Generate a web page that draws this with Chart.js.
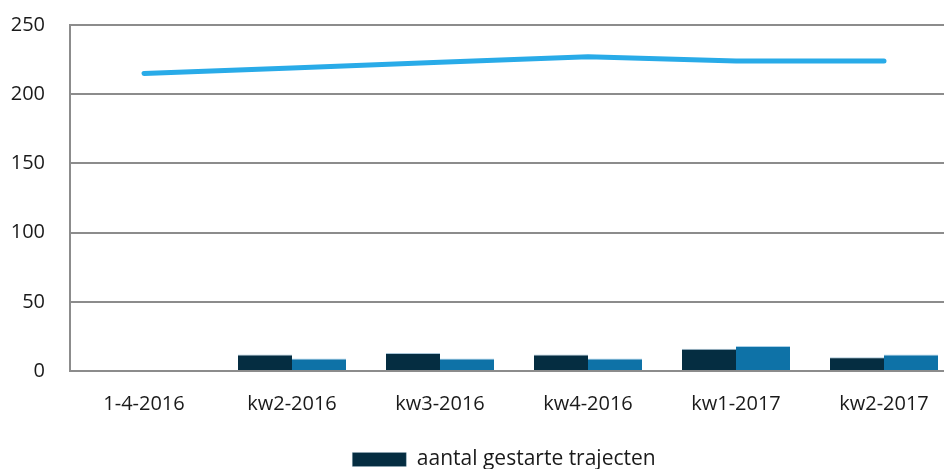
<!DOCTYPE html>
<html>
<head>
<meta charset="utf-8">
<script src="https://cdn.jsdelivr.net/npm/chart.js@4/dist/chart.umd.min.js"></script>
<style>
  html, body { margin: 0; padding: 0; background: #fff; overflow: hidden; }
  #wrap { position: relative; top: -12px; width: 962px; height: 492px; }
</style>
</head>
<body>
<div id="wrap"><canvas id="chart"></canvas></div>
<script>
const categories = ['1-4-2016', 'kw2-2016', 'kw3-2016', 'kw4-2016', 'kw1-2017', 'kw2-2017'];
const gestart = [null, 12, 13, 12, 16, 10];
const tweedeReeks = [null, 9, 9, 9, 18, 12];
const lijnReeks = [215, 219, 223, 227, 224, 224];
const yTicks = [0, 50, 100, 150, 200, 250];

const font = { family: '"Open Sans", sans-serif', size: 20 };

// legend sits a bit right of the canvas centre in the original
const shiftLegend = {
    id: 'shiftLegend',
    afterLayout(chart) {
        chart.legend.left += 25;
        chart.legend.right += 25;
    }
};

new Chart(document.getElementById('chart'), {
    data: {
        labels: categories,
        datasets: [
            {
                type: 'bar',
                label: 'aantal gestarte trajecten',
                data: gestart,
                backgroundColor: '#052d41',
                borderColor: '#a9c6d8',
                borderWidth: { top: 1, left: 0, right: 0, bottom: 0 },
                borderSkipped: false,
                categoryPercentage: 0.73,
                barPercentage: 1,
                order: 2
            },
            {
                type: 'bar',
                label: 'reeks 2',
                data: tweedeReeks,
                backgroundColor: '#0e72a7',
                borderColor: '#a9d0e8',
                borderWidth: { top: 1, left: 0, right: 0, bottom: 0 },
                borderSkipped: false,
                categoryPercentage: 0.73,
                barPercentage: 1,
                order: 2
            },
            {
                type: 'line',
                label: 'reeks 3',
                data: lijnReeks,
                borderColor: '#29abe8',
                borderWidth: 5,
                borderCapStyle: 'round',
                borderJoinStyle: 'round',
                pointRadius: 0,
                tension: 0,
                fill: false,
                order: 1
            }
        ]
    },
    plugins: [shiftLegend],
    options: {
        responsive: true,
        maintainAspectRatio: false,
        animation: false,
        layout: { padding: { top: 24, right: 4, bottom: 0, left: 0 } },
        scales: {
            x: {
                grid: { display: false, drawTicks: false },
                border: { display: true, color: '#8c8c8c', width: 2 },
                ticks: { font: font, color: '#1a1a1a', padding: 21, maxRotation: 0 },
                afterFit: axis => { axis.height = 68; }
            },
            y: {
                min: 0,
                max: 250,
                afterBuildTicks: axis => { axis.ticks = yTicks.map(v => ({ value: v })); },
                grid: { color: '#8c8c8c', lineWidth: 2, drawTicks: false },
                border: { display: true, color: '#8c8c8c', width: 2 },
                ticks: { font: font, color: '#1a1a1a', padding: 25 },
                afterFit: axis => { axis.width = 70; }
            }
        },
        plugins: {
            legend: {
                position: 'bottom',
                labels: {
                    font: { family: '"Open Sans", sans-serif', size: 21 },
                    color: '#1a1a1a',
                    boxWidth: 54,
                    boxHeight: 14,
                    padding: 10,
                    filter: item => item.datasetIndex === 0
                }
            },
            tooltip: { enabled: false }
        }
    }
});
</script>
</body>
</html>
